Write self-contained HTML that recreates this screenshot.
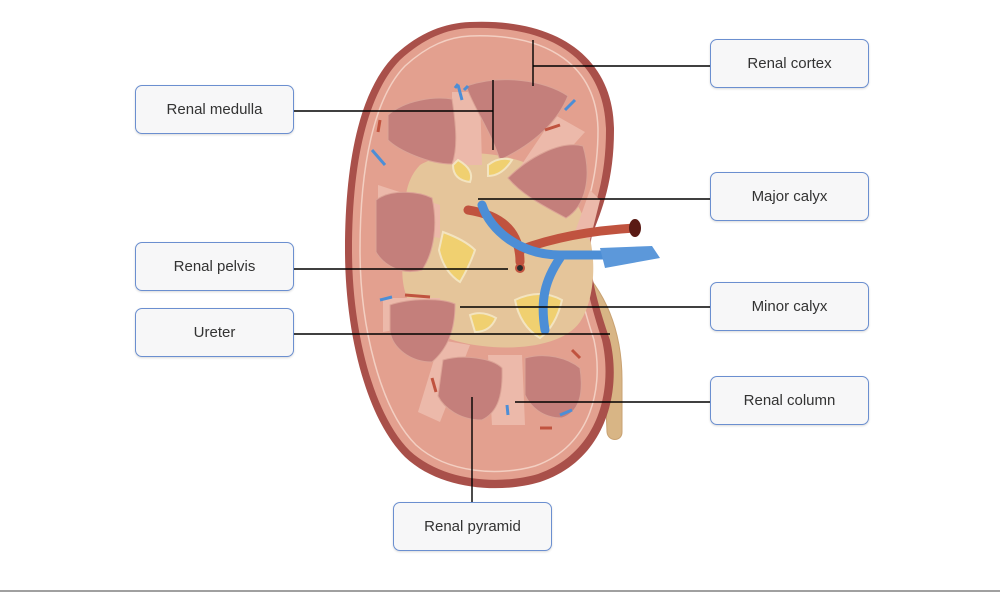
<!DOCTYPE html>
<html><head><meta charset="utf-8"><style>
html,body{margin:0;padding:0;background:#fff;}
body{width:1000px;height:592px;overflow:hidden;position:relative;font-family:"Liberation Sans",sans-serif;}
.b{position:absolute;width:159px;height:49px;border:1.5px solid #6b8fd0;border-radius:7px;background:#f7f7f8;box-sizing:border-box;font-size:15px;color:#333;display:flex;align-items:center;justify-content:center;box-shadow:0 1px 2px rgba(0,0,0,.15);}
</style></head><body>
<svg width="1000" height="592" style="position:absolute;left:0;top:0">
<!-- ureter behind -->
<path d="M575,262 C605,290 622,330 622,380 L622,432 C622,442 608,442 607,432 L605,380 C603,335 590,305 565,290Z" fill="#d8b585" stroke="#c9a272" stroke-width="1"/>
<!-- outer capsule -->
<path d="M470,22 C560,18 614,60 614,130 C614,180 602,210 592,235 C586,262 596,300 610,340 C622,390 607,460 540,482 C500,494 440,490 405,457 C365,417 345,330 345,250 C345,160 360,90 395,55 C420,32 445,23 470,22Z" fill="#a9504a"/>
<path d="M470,28 C556,25 605,63 606,130 C606,178 595,208 585,234 C579,262 589,300 602,340 C613,388 600,452 538,474 C500,485 444,482 410,451 C372,413 352,328 352,250 C352,163 367,94 400,60 C424,38 447,29 470,28Z" fill="#e3a08f"/>
<path d="M470,36 C550,33 597,67 598,130 C598,178 587,206 577,233 C571,262 581,300 594,340 C604,386 592,446 535,466 C500,476 448,474 416,445 C380,409 360,326 360,250 C360,166 374,98 405,66 C428,45 449,37 470,36Z" fill="none" stroke="#f3cfc2" stroke-width="1.5"/>
<!-- sinus -->
<path d="M420,165 C455,145 525,150 562,185 C600,222 600,292 580,322 C560,350 500,352 460,342 C420,332 398,300 403,260 C407,220 398,188 420,165Z" fill="#e5c59a"/>
<!-- columns lighter -->
<g fill="#ecb9aa">
<path d="M452,92 L480,92 L482,165 L452,165Z"/>
<path d="M378,185 L440,205 L440,238 L378,228Z"/>
<path d="M383,298 L440,298 L440,322 L383,332Z"/>
<path d="M488,355 L522,355 L525,425 L492,425Z"/>
<path d="M555,115 L585,132 L540,182 L518,170Z"/>
<path d="M440,340 L470,345 L440,422 L418,412Z"/>
<path d="M590,190 L600,200 L590,240 L575,232Z"/>
</g>
<!-- pyramids -->
<g fill="#c47f7b" stroke="#dba396" stroke-width="1">
<path d="M466,86 C500,74 545,80 568,96 C555,128 525,148 500,160 C490,130 475,110 466,86Z"/>
<path d="M388,115 C405,100 435,96 452,99 C456,125 458,148 452,164 C428,164 398,150 388,140Z"/>
<path d="M508,178 C528,158 560,140 583,146 C592,176 586,206 566,218 C544,206 522,195 508,178Z"/>
<path d="M376,200 C392,188 420,192 432,198 C438,225 434,252 422,270 C400,276 383,264 376,252Z"/>
<path d="M390,305 C410,298 442,298 455,304 C455,330 448,348 432,362 C410,362 393,348 390,332Z"/>
<path d="M443,360 C463,354 492,358 502,368 C503,395 498,412 482,420 C460,420 444,408 438,396Z"/>
<path d="M525,358 C546,352 568,358 580,368 C584,395 579,412 562,418 C542,418 530,406 525,395Z"/>
</g>
<!-- calyces yellow -->
<g fill="#f0d070" stroke="#f3e4c0" stroke-width="2">
<path d="M458,160 Q475,170 470,182 Q453,180 453,165Z"/>
<path d="M488,165 Q500,156 512,160 Q502,176 488,176Z"/>
<path d="M443,232 Q465,240 475,250 Q470,265 460,282 Q444,272 439,250Z"/>
<path d="M515,300 Q540,288 562,300 Q556,326 540,338 Q520,326 515,300Z"/>
<path d="M470,315 Q482,310 496,318 Q490,332 475,332Z"/>
</g>
<!-- artery -->
<path d="M468,210 C500,215 520,230 520,262 M520,250 C560,235 600,230 635,228" stroke="#c0533f" stroke-width="9" fill="none" stroke-linecap="round"/>
<ellipse cx="635" cy="228" rx="6" ry="9" fill="#5a1a14"/>
<!-- vein -->
<path d="M482,205 C490,230 520,255 560,255 L650,255 M560,258 C545,280 540,300 545,330" stroke="#4c8ed6" stroke-width="9" fill="none" stroke-linecap="round"/>
<path d="M600,248 L652,246 L660,258 L605,268Z" fill="#5c98da"/>
<circle cx="520" cy="268" r="4" fill="#2b2b2b" stroke="#c0533f" stroke-width="2"/>
<!-- small vessels -->
<g stroke="#4c8ed6" stroke-width="3" fill="none"><path d="M458,85 L462,100 M455,88 L458,84 M468,86 L464,90"/><path d="M372,150 L385,165"/><path d="M565,110 L575,100"/><path d="M380,300 L392,297"/><path d="M560,415 L572,410"/><path d="M507,405 L508,415"/></g>
<g stroke="#c0533f" stroke-width="3" fill="none"><path d="M380,120 L378,132"/><path d="M545,130 L560,125"/><path d="M405,295 L430,297"/><path d="M432,378 L436,392"/><path d="M540,428 L552,428"/><path d="M572,350 L580,358"/></g>
<!-- leader lines -->
<g stroke="#000" stroke-width="1.4" fill="none">
<path d="M533,40 V86 M533,66 H710"/>
<path d="M294,111 H493 M493,80 V150"/>
<path d="M478,199 H710"/>
<path d="M294,269 H508"/>
<path d="M294,334 H610"/>
<path d="M460,307 H710"/>
<path d="M515,402 H710"/>
<path d="M472,397 V502"/>
</g>
<line x1="0" y1="591" x2="1000" y2="591" stroke="#a0a0a0" stroke-width="2"/>
</svg>
<div class="b" style="left:710px;top:39px">Renal cortex</div>
<div class="b" style="left:135px;top:85px">Renal medulla</div>
<div class="b" style="left:710px;top:172px">Major calyx</div>
<div class="b" style="left:135px;top:242px">Renal pelvis</div>
<div class="b" style="left:710px;top:282px">Minor calyx</div>
<div class="b" style="left:135px;top:308px">Ureter</div>
<div class="b" style="left:710px;top:376px">Renal column</div>
<div class="b" style="left:393px;top:502px">Renal pyramid</div>
</body></html>
